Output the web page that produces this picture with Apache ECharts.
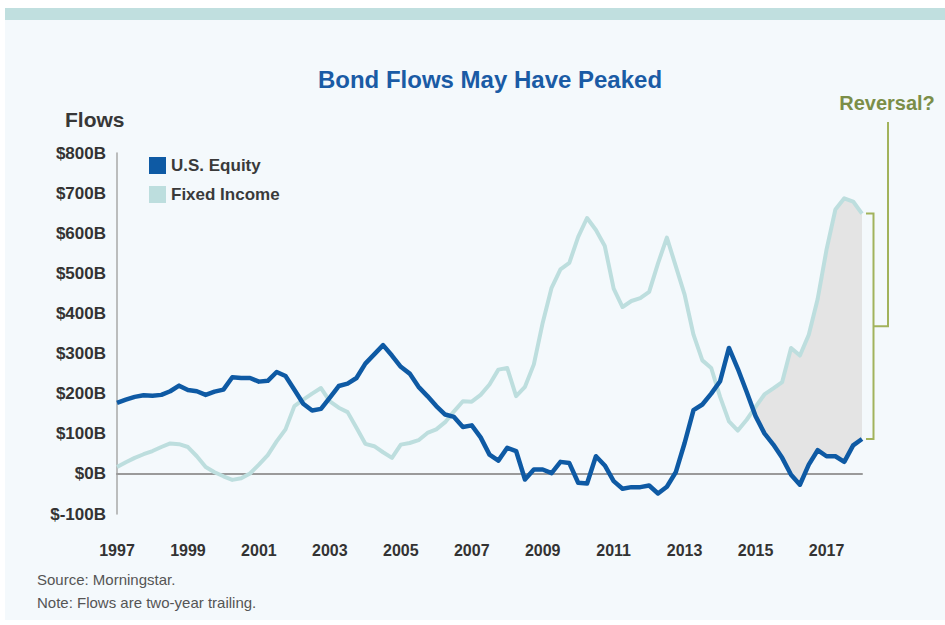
<!DOCTYPE html>
<html>
<head>
<meta charset="utf-8">
<script src="https://cdn.jsdelivr.net/npm/echarts@6/dist/echarts.min.js"></script>
<style>
  html, body { margin: 0; padding: 0; background: #ffffff; }
  #chart { width: 945px; height: 625px; }
</style>
</head>
<body>
<div id="chart"></div>
<script>
// Two-year trailing flows, quarterly from 1997 Q1 through 2018 Q1, in $ billions
const usEquity = [
  177, 185, 192, 196, 195, 197, 206, 220, 209, 206,
  197, 205, 210, 241, 239, 239, 230, 232, 254, 244,
  210, 175, 158, 162, 190, 219, 225, 239, 275,
  298, 321, 295, 267, 250, 217, 194, 169, 148, 142,
  117, 121, 91, 48, 33, 65, 57, -14, 11, 11,
  2, 30, 27, -22, -24, 44, 21, -18,
  -37, -33, -33, -29, -49, -32, 4, 77, 159, 173,
  200, 231, 314, 262, 204, 144, 101, 73, 40, -2,
  -27, 23, 59, 44, 44, 30, 71, 87
];
const fixedIncome = [
  17, 29, 40, 49, 57, 67, 76, 74, 67, 44,
  17, 4, -6, -15, -11, 1, 23, 47, 81, 111,
  169, 185, 200, 214, 181, 165, 154, 115, 75,
  69, 54, 40, 73, 77, 84, 102, 111, 129, 156,
  181, 180, 197, 223, 260, 264, 194, 217, 273, 377,
  464, 510, 526, 591, 638, 608, 568, 462,
  416, 431, 438, 454, 525, 589, 518, 447, 347, 283,
  264, 192, 131, 108, 135, 167, 198, 213, 229, 314,
  295, 347, 436, 559, 659, 687, 679, 649
];
// One x tick every eight quarters
const yearLabels = ['1997', '1999', '2001', '2003', '2005', '2007', '2009', '2011', '2013', '2015', '2017'];
const yTicks = [-100, 0, 100, 200, 300, 400, 500, 600, 700, 800];

const seriesNames = ['U.S. Equity', 'Fixed Income'];
const COL_EQ = '#0e5aa4';
const COL_FI = '#bddede';
const COL_GREEN = '#a2b35c';
const FONT = '"Liberation Sans", Arial, sans-serif';

const last = usEquity.length - 1;
const eqData = usEquity.map((v, i) => [i, v]);
const fiData = fixedIncome.map((v, i) => [i, v]);

// Where fixed income last moved above equity: start of the shaded gap
function gapStart() {
  let j = last;
  while (j > 0 && fixedIncome[j] > usEquity[j]) j--;
  const d0 = usEquity[j] - fixedIncome[j];
  const d1 = fixedIncome[j + 1] - usEquity[j + 1];
  const t = d0 / (d0 + d1);
  return { j: j, x: j + t, y: usEquity[j] + (usEquity[j + 1] - usEquity[j]) * t };
}

const chart = echarts.init(document.getElementById('chart'), null, { renderer: 'svg' });

chart.setOption({
  animation: false,
  graphic: [
    { type: 'rect', z: -10, silent: true, shape: { x: 5, y: 19, width: 940, height: 601 }, style: { fill: '#f4f9fc' } },
    { type: 'rect', z: -9, silent: true, shape: { x: 5, y: 8, width: 940, height: 12 }, style: { fill: '#c0dfdf' } },
    { type: 'text', left: 65, top: 109, style: { text: 'Flows', font: 'bold 21px ' + FONT, fill: '#373737' } },
    { type: 'text', left: 37, top: 572, style: { text: 'Source: Morningstar.', font: '15px ' + FONT, fill: '#555555' } },
    { type: 'text', left: 37, top: 595, style: { text: 'Note: Flows are two-year trailing.', font: '15px ' + FONT, fill: '#555555' } }
  ],
  title: {
    text: 'Bond Flows May Have Peaked',
    left: 485,
    textAlign: 'center',
    top: 62,
    textStyle: { fontFamily: FONT, fontWeight: 'bold', fontSize: 24, color: '#1a5ba5' }
  },
  legend: {
    data: seriesNames,
    orient: 'vertical',
    left: 149,
    top: 157,
    padding: 0,
    icon: 'rect',
    itemWidth: 17,
    itemHeight: 17,
    itemGap: 12,
    textStyle: { fontFamily: FONT, fontWeight: 'bold', fontSize: 17, color: '#3a3a3a' }
  },
  grid: { left: 117, right: 83, top: 153, bottom: 111 },
  xAxis: {
    type: 'value',
    min: 0,
    max: last,
    interval: 8,
    splitLine: { show: false },
    axisTick: { show: false },
    axisLine: { show: true, onZero: true, lineStyle: { color: '#9a9a9a', width: 2 } },
    axisLabel: {
      margin: 28,
      showMaxLabel: false,
      fontFamily: FONT, fontWeight: 'bold', fontSize: 16, color: '#333333',
      formatter: v => yearLabels[v / 8] || ''
    }
  },
  yAxis: {
    type: 'value',
    min: yTicks[0],
    max: yTicks[yTicks.length - 1],
    interval: 100,
    offset: 4,
    splitLine: { show: false },
    axisTick: { show: false },
    axisLine: { show: true, lineStyle: { color: '#a8a8a8', width: 1.5 } },
    axisLabel: {
      margin: 7,
      fontFamily: FONT, fontWeight: 'bold', fontSize: 17, color: '#333333',
      formatter: v => '$' + v + 'B'
    }
  },
  series: [
    {
      // grey gap between the two series after fixed income overtakes equity
      type: 'custom',
      silent: true,
      z: 1,
      data: [0],
      renderItem: (params, api) => {
        const g = gapStart();
        const pts = [api.coord([g.x, g.y])];
        for (let i = g.j + 1; i <= last; i++) pts.push(api.coord([i, fixedIncome[i]]));
        for (let i = last; i > g.j; i--) pts.push(api.coord([i, usEquity[i]]));
        return { type: 'polygon', shape: { points: pts }, style: { fill: '#e4e4e4' } };
      }
    },
    {
      name: seriesNames[1],
      type: 'line',
      z: 2,
      data: fiData,
      symbol: 'none',
      color: COL_FI,
      lineStyle: { width: 4, color: COL_FI, join: 'round' }
    },
    {
      name: seriesNames[0],
      type: 'line',
      z: 3,
      data: eqData,
      symbol: 'none',
      color: COL_EQ,
      lineStyle: { width: 4.5, color: COL_EQ, join: 'round' }
    },
    {
      // "Reversal?" bracket spanning the latest gap
      type: 'custom',
      silent: true,
      clip: false,
      z: 4,
      data: [0],
      renderItem: (params, api) => {
        const top = api.coord([last, fixedIncome[last]]);
        const bot = api.coord([last, usEquity[last]]);
        const ceil = api.coord([last, yTicks[yTicks.length - 1]]);
        const x0 = top[0] + 4, x1 = top[0] + 11.5, x2 = top[0] + 26;
        const ym = (top[1] + bot[1]) / 2;
        const ls = { stroke: COL_GREEN, lineWidth: 2, fill: null };
        return {
          type: 'group',
          children: [
            { type: 'polyline', shape: { points: [[x0, top[1]], [x1, top[1]], [x1, bot[1]], [x0, bot[1]]] }, style: ls },
            { type: 'polyline', shape: { points: [[x1, ym], [x2, ym], [x2, ceil[1] - 31]] }, style: ls },
            { type: 'text', x: x2 - 1, y: ceil[1] - 40, style: { text: 'Reversal?', font: 'bold 20px ' + FONT, fill: '#7b8e48', align: 'center', verticalAlign: 'bottom' } }
          ]
        };
      }
    }
  ]
});
</script>
</body>
</html>
